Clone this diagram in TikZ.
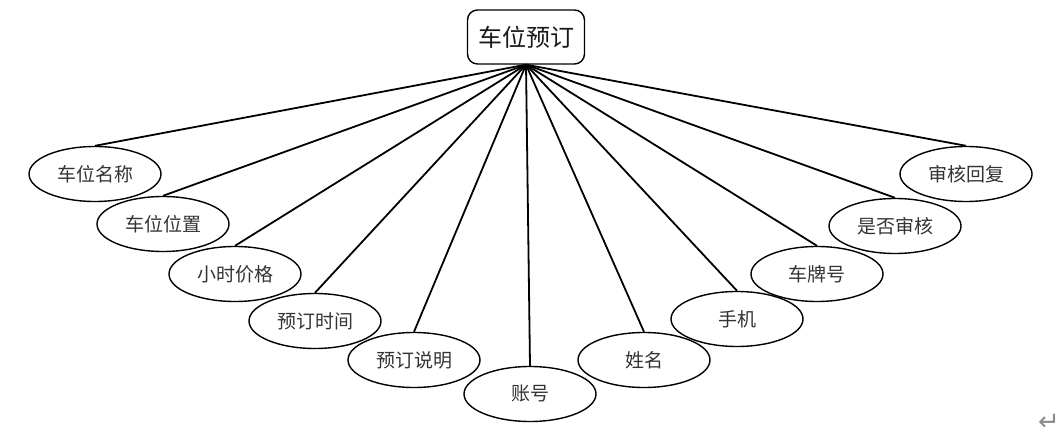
\documentclass[tikz,border=0pt]{standalone}
\usepackage{fontspec}
\setmainfont{Noto Sans CJK SC}
\newfontfamily\symfont{DejaVu Sans}
\usetikzlibrary{shapes.geometric}
\begin{document}
\begin{tikzpicture}[x=1pt,y=1pt,
  attr/.style={draw=black,line width=1.4pt,ellipse,minimum width=132pt,minimum height=55pt,inner sep=0pt,font=\fontsize{19}{21}\selectfont,text=black!80},
  ent/.style={draw=black,line width=1.4pt,rounded corners=10pt,minimum width=117pt,minimum height=54pt,inner sep=0pt,font=\fontsize{24}{27}\selectfont,text=black!90},
  link/.style={line width=1.8pt,black}]
\useasboundingbox (0,0) rectangle (1064,-435);
\node[ent] (top) at (526,-37) {车位预订};
\node[attr] (a1) at (95,-174) {车位名称};
\node[attr] (a2) at (163,-224) {车位位置};
\node[attr] (a3) at (235,-274) {小时价格};
\node[attr] (a4) at (315,-321) {预订时间};
\node[attr] (a5) at (414,-360) {预订说明};
\node[attr] (a6) at (530,-394) {账号};
\node[attr] (a7) at (644,-360) {姓名};
\node[attr] (a8) at (737,-319) {手机};
\node[attr] (a9) at (817,-274) {车牌号};
\node[attr] (a10) at (895,-226) {是否审核};
\node[attr] (a11) at (966,-174) {审核回复};
\foreach \i in {1,...,11} {\draw[link] (top.south) -- (a\i.north);}
\node[font=\symfont\fontsize{26}{28}\selectfont,text=black!45] (ret) at (1049,-422) {↵};
\end{tikzpicture}
\end{document}
